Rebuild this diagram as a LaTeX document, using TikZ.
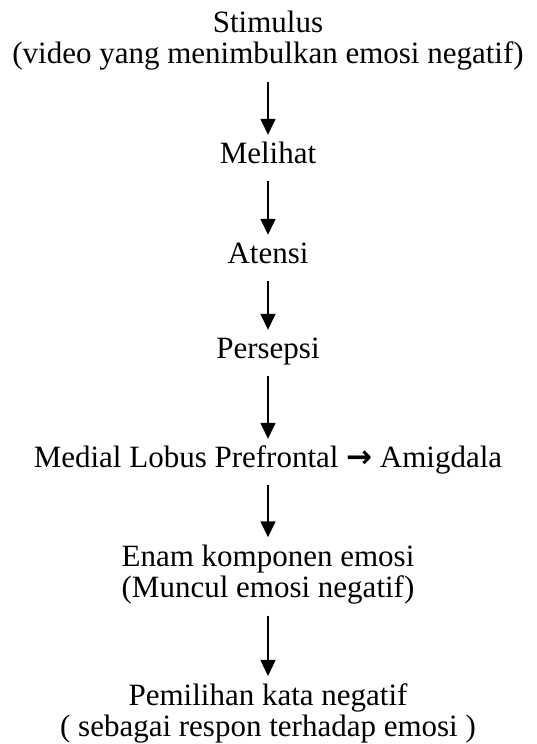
\documentclass[tikz,border=0pt]{standalone}
\usepackage{fontspec}
\setmainfont{Liberation Serif}
\newfontfamily\arrowfont{DejaVu Sans}
\usetikzlibrary{arrows.meta}
\begin{document}
\begin{tikzpicture}[x=1pt,y=-1pt,>={Triangle[width=15pt,length=16pt]},
  font=\fontsize{31}{31}\selectfont, line join=round,
  tahap/.style={align=center, inner sep=0pt, anchor=base},
  satu/.style={tahap, text height=21pt, text depth=6pt},
  flow/.style={->, line width=1.5pt, shorten <=12pt, shorten >=7pt}]
\useasboundingbox (0,0) rectangle (536,744);
% tahapan (base = baris terakhir)
\node[tahap] (stim) at (268,63) {Stimulus\\(video yang menimbulkan emosi negatif)};
\node[satu] (lihat) at (268,163) {Melihat};
\node[satu] (atensi) at (268,263) {Atensi};
\node[satu] (persepsi) at (268,358) {Persepsi};
\node[satu] (otak) at (268,467) {Medial Lobus Prefrontal {\arrowfont\bfseries →} Amigdala};
\node[tahap] (emosi) at (268,597) {Enam komponen emosi\\(Muncul emosi negatif)};
\node[tahap] (kata) at (268,736) {Pemilihan kata negatif\\( sebagai respon terhadap emosi )};
% panah
\draw[flow] (stim) -- (lihat);
\draw[flow] (lihat) -- (atensi);
\draw[flow] (atensi) -- (persepsi);
\draw[flow] (persepsi) -- (otak);
\draw[flow] (otak) -- (emosi);
\draw[flow] (emosi) -- (kata);
\end{tikzpicture}
\end{document}
